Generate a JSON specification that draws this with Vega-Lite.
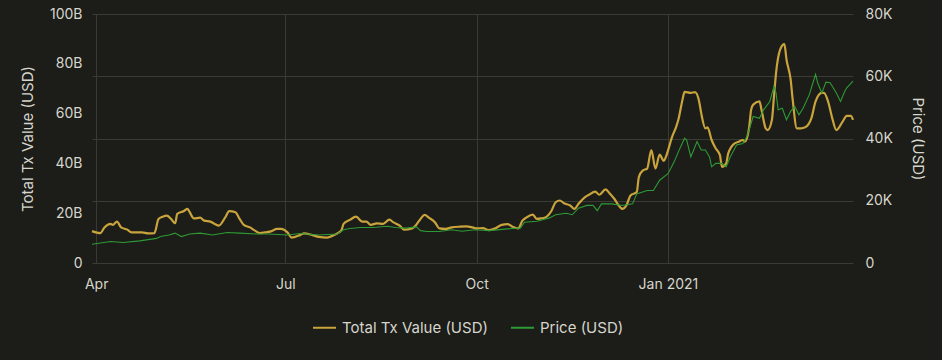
{
  "$schema": "https://vega.github.io/schema/vega-lite/v6.json",
  "width": 942,
  "height": 360,
  "autosize": {"type": "fit", "contains": "padding"},
  "padding": {"left": 20, "right": 17, "top": 7, "bottom": 69},
  "background": "#1c1c18",
  "config": {
    "view": {"stroke": null},
    "font": "Inter",
    "axis": {
      "labelColor": "#d6d6cc",
      "titleColor": "#d6d6cc",
      "labelFont": "Inter",
      "titleFont": "Inter",
      "labelFontSize": 14,
      "titleFontSize": 15,
      "titleFontWeight": "normal",
      "domain": false,
      "ticks": false,
      "gridColor": "#3b3b36",
      "gridWidth": 1
    },
    "legend": {
      "labelColor": "#d6d6cc",
      "labelFont": "Inter",
      "labelFontSize": 15
    }
  },
  "datasets": {
    "tx": [
      {"date": "2020-03-30", "tx": 12.8e9},
      {"date": "2020-04-03", "tx": 12.0e9},
      {"date": "2020-04-05", "tx": 14.3e9},
      {"date": "2020-04-08", "tx": 15.7e9},
      {"date": "2020-04-09", "tx": 15.3e9},
      {"date": "2020-04-11", "tx": 16.6e9},
      {"date": "2020-04-13", "tx": 14.3e9},
      {"date": "2020-04-16", "tx": 13.4e9},
      {"date": "2020-04-18", "tx": 12.3e9},
      {"date": "2020-04-21", "tx": 12.3e9},
      {"date": "2020-04-23", "tx": 12.3e9},
      {"date": "2020-04-26", "tx": 11.9e9},
      {"date": "2020-04-29", "tx": 12.0e9},
      {"date": "2020-05-01", "tx": 17.7e9},
      {"date": "2020-05-03", "tx": 18.6e9},
      {"date": "2020-05-05", "tx": 19.0e9},
      {"date": "2020-05-07", "tx": 17.7e9},
      {"date": "2020-05-09", "tx": 16.0e9},
      {"date": "2020-05-10", "tx": 19.7e9},
      {"date": "2020-05-13", "tx": 20.8e9},
      {"date": "2020-05-15", "tx": 21.7e9},
      {"date": "2020-05-16", "tx": 20.4e9},
      {"date": "2020-05-18", "tx": 17.9e9},
      {"date": "2020-05-21", "tx": 18.2e9},
      {"date": "2020-05-23", "tx": 17.0e9},
      {"date": "2020-05-26", "tx": 16.6e9},
      {"date": "2020-05-28", "tx": 15.7e9},
      {"date": "2020-05-30", "tx": 15.0e9},
      {"date": "2020-06-02", "tx": 18.2e9},
      {"date": "2020-06-04", "tx": 20.8e9},
      {"date": "2020-06-07", "tx": 20.4e9},
      {"date": "2020-06-09", "tx": 17.7e9},
      {"date": "2020-06-11", "tx": 15.3e9},
      {"date": "2020-06-14", "tx": 14.3e9},
      {"date": "2020-06-16", "tx": 13.2e9},
      {"date": "2020-06-19", "tx": 12.0e9},
      {"date": "2020-06-21", "tx": 12.3e9},
      {"date": "2020-06-24", "tx": 12.7e9},
      {"date": "2020-06-27", "tx": 13.7e9},
      {"date": "2020-06-29", "tx": 13.7e9},
      {"date": "2020-07-02", "tx": 12.3e9},
      {"date": "2020-07-04", "tx": 10.2e9},
      {"date": "2020-07-08", "tx": 11.2e9},
      {"date": "2020-07-10", "tx": 11.9e9},
      {"date": "2020-07-14", "tx": 11.2e9},
      {"date": "2020-07-17", "tx": 10.5e9},
      {"date": "2020-07-21", "tx": 10.2e9},
      {"date": "2020-07-23", "tx": 10.7e9},
      {"date": "2020-07-26", "tx": 11.9e9},
      {"date": "2020-07-28", "tx": 13.2e9},
      {"date": "2020-07-29", "tx": 15.7e9},
      {"date": "2020-08-01", "tx": 17.3e9},
      {"date": "2020-08-04", "tx": 18.6e9},
      {"date": "2020-08-07", "tx": 16.6e9},
      {"date": "2020-08-09", "tx": 16.6e9},
      {"date": "2020-08-11", "tx": 15.3e9},
      {"date": "2020-08-14", "tx": 15.9e9},
      {"date": "2020-08-17", "tx": 15.7e9},
      {"date": "2020-08-20", "tx": 17.4e9},
      {"date": "2020-08-22", "tx": 16.3e9},
      {"date": "2020-08-25", "tx": 15.0e9},
      {"date": "2020-08-27", "tx": 13.4e9},
      {"date": "2020-08-31", "tx": 13.9e9},
      {"date": "2020-09-02", "tx": 15.4e9},
      {"date": "2020-09-04", "tx": 17.7e9},
      {"date": "2020-09-06", "tx": 19.3e9},
      {"date": "2020-09-08", "tx": 18.2e9},
      {"date": "2020-09-11", "tx": 16.3e9},
      {"date": "2020-09-13", "tx": 13.9e9},
      {"date": "2020-09-16", "tx": 13.7e9},
      {"date": "2020-09-19", "tx": 14.3e9},
      {"date": "2020-09-23", "tx": 14.6e9},
      {"date": "2020-09-26", "tx": 14.7e9},
      {"date": "2020-09-29", "tx": 14.3e9},
      {"date": "2020-10-01", "tx": 13.9e9},
      {"date": "2020-10-04", "tx": 14.0e9},
      {"date": "2020-10-07", "tx": 13.2e9},
      {"date": "2020-10-10", "tx": 13.9e9},
      {"date": "2020-10-13", "tx": 15.3e9},
      {"date": "2020-10-16", "tx": 15.6e9},
      {"date": "2020-10-18", "tx": 14.7e9},
      {"date": "2020-10-21", "tx": 13.9e9},
      {"date": "2020-10-23", "tx": 17.0e9},
      {"date": "2020-10-25", "tx": 18.3e9},
      {"date": "2020-10-28", "tx": 19.4e9},
      {"date": "2020-10-30", "tx": 17.7e9},
      {"date": "2020-11-01", "tx": 17.9e9},
      {"date": "2020-11-03", "tx": 18.3e9},
      {"date": "2020-11-06", "tx": 21.0e9},
      {"date": "2020-11-08", "tx": 24.4e9},
      {"date": "2020-11-10", "tx": 25.1e9},
      {"date": "2020-11-12", "tx": 24.0e9},
      {"date": "2020-11-15", "tx": 23.1e9},
      {"date": "2020-11-17", "tx": 21.7e9},
      {"date": "2020-11-19", "tx": 23.8e9},
      {"date": "2020-11-22", "tx": 26.4e9},
      {"date": "2020-11-24", "tx": 27.4e9},
      {"date": "2020-11-27", "tx": 28.7e9},
      {"date": "2020-11-29", "tx": 27.4e9},
      {"date": "2020-12-02", "tx": 29.6e9},
      {"date": "2020-12-04", "tx": 27.9e9},
      {"date": "2020-12-06", "tx": 26.0e9},
      {"date": "2020-12-09", "tx": 22.4e9},
      {"date": "2020-12-10", "tx": 21.7e9},
      {"date": "2020-12-12", "tx": 23.1e9},
      {"date": "2020-12-14", "tx": 27.1e9},
      {"date": "2020-12-17", "tx": 28.5e9},
      {"date": "2020-12-18", "tx": 34.5e9},
      {"date": "2020-12-20", "tx": 37.2e9},
      {"date": "2020-12-22", "tx": 37.9e9},
      {"date": "2020-12-24", "tx": 45.3e9},
      {"date": "2020-12-26", "tx": 37.9e9},
      {"date": "2020-12-28", "tx": 43.5e9},
      {"date": "2020-12-30", "tx": 41.0e9},
      {"date": "2020-12-31", "tx": 42.6e9},
      {"date": "2021-01-03", "tx": 50.7e9},
      {"date": "2021-01-05", "tx": 54.8e9},
      {"date": "2021-01-06", "tx": 57.5e9},
      {"date": "2021-01-08", "tx": 65.6e9},
      {"date": "2021-01-09", "tx": 68.7e9},
      {"date": "2021-01-12", "tx": 68.3e9},
      {"date": "2021-01-14", "tx": 68.6e9},
      {"date": "2021-01-16", "tx": 64.9e9},
      {"date": "2021-01-17", "tx": 60.2e9},
      {"date": "2021-01-19", "tx": 54.1e9},
      {"date": "2021-01-20", "tx": 54.5e9},
      {"date": "2021-01-22", "tx": 49.4e9},
      {"date": "2021-01-24", "tx": 46.0e9},
      {"date": "2021-01-26", "tx": 43.3e9},
      {"date": "2021-01-27", "tx": 38.6e9},
      {"date": "2021-01-29", "tx": 40.0e9},
      {"date": "2021-01-30", "tx": 44.0e9},
      {"date": "2021-02-02", "tx": 48.0e9},
      {"date": "2021-02-04", "tx": 48.7e9},
      {"date": "2021-02-06", "tx": 49.4e9},
      {"date": "2021-02-07", "tx": 48.7e9},
      {"date": "2021-02-09", "tx": 54.1e9},
      {"date": "2021-02-10", "tx": 61.5e9},
      {"date": "2021-02-11", "tx": 63.6e9},
      {"date": "2021-02-14", "tx": 64.9e9},
      {"date": "2021-02-15", "tx": 61.5e9},
      {"date": "2021-02-17", "tx": 54.1e9},
      {"date": "2021-02-18", "tx": 53.4e9},
      {"date": "2021-02-20", "tx": 57.5e9},
      {"date": "2021-02-21", "tx": 66.9e9},
      {"date": "2021-02-22", "tx": 76.4e9},
      {"date": "2021-02-24", "tx": 85.8e9},
      {"date": "2021-02-26", "tx": 87.9e9},
      {"date": "2021-02-27", "tx": 81.8e9},
      {"date": "2021-03-01", "tx": 73.7e9},
      {"date": "2021-03-02", "tx": 65.6e9},
      {"date": "2021-03-04", "tx": 54.1e9},
      {"date": "2021-03-06", "tx": 54.1e9},
      {"date": "2021-03-08", "tx": 54.5e9},
      {"date": "2021-03-11", "tx": 58.2e9},
      {"date": "2021-03-13", "tx": 64.9e9},
      {"date": "2021-03-16", "tx": 68.3e9},
      {"date": "2021-03-17", "tx": 68.3e9},
      {"date": "2021-03-19", "tx": 64.9e9},
      {"date": "2021-03-21", "tx": 58.2e9},
      {"date": "2021-03-23", "tx": 53.4e9},
      {"date": "2021-03-26", "tx": 56.8e9},
      {"date": "2021-03-28", "tx": 59.1e9},
      {"date": "2021-03-30", "tx": 59.1e9},
      {"date": "2021-03-31", "tx": 57.5e9}
    ],
    "price": [
      {"date": "2020-03-30", "price": 6000},
      {"date": "2020-04-08", "price": 6900},
      {"date": "2020-04-14", "price": 6600},
      {"date": "2020-04-22", "price": 7100},
      {"date": "2020-04-30", "price": 7900},
      {"date": "2020-05-02", "price": 8500},
      {"date": "2020-05-06", "price": 9000},
      {"date": "2020-05-09", "price": 9600},
      {"date": "2020-05-12", "price": 8500},
      {"date": "2020-05-16", "price": 9300},
      {"date": "2020-05-21", "price": 9600},
      {"date": "2020-05-27", "price": 9000},
      {"date": "2020-06-03", "price": 9800},
      {"date": "2020-06-09", "price": 9600},
      {"date": "2020-06-17", "price": 9300},
      {"date": "2020-06-23", "price": 9300},
      {"date": "2020-07-02", "price": 9000},
      {"date": "2020-07-08", "price": 9500},
      {"date": "2020-07-17", "price": 9000},
      {"date": "2020-07-26", "price": 9300},
      {"date": "2020-07-29", "price": 10700},
      {"date": "2020-08-01", "price": 11100},
      {"date": "2020-08-06", "price": 11400},
      {"date": "2020-08-12", "price": 11400},
      {"date": "2020-08-19", "price": 11800},
      {"date": "2020-08-23", "price": 11400},
      {"date": "2020-08-28", "price": 11200},
      {"date": "2020-09-02", "price": 11600},
      {"date": "2020-09-04", "price": 10400},
      {"date": "2020-09-07", "price": 10100},
      {"date": "2020-09-13", "price": 10100},
      {"date": "2020-09-19", "price": 10700},
      {"date": "2020-09-24", "price": 10200},
      {"date": "2020-09-29", "price": 10600},
      {"date": "2020-10-02", "price": 10600},
      {"date": "2020-10-07", "price": 10400},
      {"date": "2020-10-18", "price": 11100},
      {"date": "2020-10-22", "price": 11200},
      {"date": "2020-10-24", "price": 13100},
      {"date": "2020-10-30", "price": 13400},
      {"date": "2020-11-05", "price": 14500},
      {"date": "2020-11-08", "price": 15500},
      {"date": "2020-11-13", "price": 16000},
      {"date": "2020-11-16", "price": 15500},
      {"date": "2020-11-19", "price": 17600},
      {"date": "2020-11-23", "price": 18500},
      {"date": "2020-11-26", "price": 18500},
      {"date": "2020-11-28", "price": 16800},
      {"date": "2020-11-30", "price": 19000},
      {"date": "2020-12-05", "price": 19000},
      {"date": "2020-12-10", "price": 18500},
      {"date": "2020-12-15", "price": 19000},
      {"date": "2020-12-17", "price": 22200},
      {"date": "2020-12-22", "price": 23300},
      {"date": "2020-12-25", "price": 23300},
      {"date": "2020-12-28", "price": 26600},
      {"date": "2021-01-01", "price": 28700},
      {"date": "2021-01-04", "price": 32500},
      {"date": "2021-01-06", "price": 35700},
      {"date": "2021-01-09", "price": 40100},
      {"date": "2021-01-10", "price": 39500},
      {"date": "2021-01-12", "price": 34100},
      {"date": "2021-01-15", "price": 39000},
      {"date": "2021-01-17", "price": 36300},
      {"date": "2021-01-19", "price": 36300},
      {"date": "2021-01-21", "price": 34100},
      {"date": "2021-01-22", "price": 30900},
      {"date": "2021-01-24", "price": 32000},
      {"date": "2021-01-27", "price": 32000},
      {"date": "2021-01-29", "price": 30900},
      {"date": "2021-01-31", "price": 34100},
      {"date": "2021-02-03", "price": 37900},
      {"date": "2021-02-06", "price": 38400},
      {"date": "2021-02-08", "price": 40600},
      {"date": "2021-02-10", "price": 44900},
      {"date": "2021-02-11", "price": 47100},
      {"date": "2021-02-14", "price": 46500},
      {"date": "2021-02-16", "price": 49200},
      {"date": "2021-02-19", "price": 51900},
      {"date": "2021-02-21", "price": 56800},
      {"date": "2021-02-22", "price": 54600},
      {"date": "2021-02-23", "price": 49200},
      {"date": "2021-02-25", "price": 49700},
      {"date": "2021-02-27", "price": 46000},
      {"date": "2021-03-01", "price": 48700},
      {"date": "2021-03-03", "price": 50300},
      {"date": "2021-03-05", "price": 47600},
      {"date": "2021-03-07", "price": 49700},
      {"date": "2021-03-10", "price": 54100},
      {"date": "2021-03-11", "price": 56300},
      {"date": "2021-03-13", "price": 60600},
      {"date": "2021-03-14", "price": 57900},
      {"date": "2021-03-16", "price": 54600},
      {"date": "2021-03-18", "price": 58100},
      {"date": "2021-03-20", "price": 57900},
      {"date": "2021-03-23", "price": 54600},
      {"date": "2021-03-25", "price": 51900},
      {"date": "2021-03-27", "price": 55100},
      {"date": "2021-03-28", "price": 56300},
      {"date": "2021-03-31", "price": 58400}
    ]
  },
  "layer": [
    {
      "data": {"name": "tx"},
      "mark": {"type": "line", "strokeWidth": 2.2, "interpolate": "monotone"},
      "encoding": {
        "x": {
          "field": "date",
          "type": "temporal",
          "scale": {
            "type": "utc",
            "domain": [
              {"year": 2020, "month": "mar", "date": 30, "utc": true},
              {"year": 2021, "month": "mar", "date": 31, "utc": true}
            ]
          },
          "axis": {
            "title": null,
            "grid": true,
            "tickCount": {"interval": "month", "step": 3},
            "labelPadding": 14,
            "labelExpr": "utcmonth(datum.value) === 0 ? utcFormat(datum.value, '%b %Y') : utcFormat(datum.value, '%b')"
          }
        },
        "y": {
          "field": "tx",
          "type": "quantitative",
          "scale": {"domain": [0, 100e9]},
          "axis": {
            "orient": "left",
            "title": "Total Tx Value (USD)",
            "grid": false,
            "values": [0, 20e9, 40e9, 60e9, 80e9, 100e9],
            "labelPadding": 10,
            "titlePadding": 14,
            "labelExpr": "datum.value === 0 ? '0' : format(datum.value / 1e9, 'd') + 'B'"
          }
        },
        "color": {
          "datum": "Total Tx Value (USD)",
          "type": "nominal",
          "scale": {
            "domain": ["Total Tx Value (USD)", "Price (USD)"],
            "range": ["#c9a43c", "#2e9a35"]
          },
          "legend": {
            "orient": "none",
            "direction": "horizontal",
            "legendX": 220,
            "legendY": 301,
            "title": null,
            "symbolType": "stroke",
            "symbolSize": 529,
            "symbolStrokeWidth": 2,
            "labelOffset": 5,
            "columnPadding": 19
          }
        }
      }
    },
    {
      "data": {"name": "price"},
      "mark": {"type": "line", "strokeWidth": 1.1},
      "encoding": {
        "x": {"field": "date", "type": "temporal"},
        "y": {
          "field": "price",
          "type": "quantitative",
          "scale": {"domain": [0, 80000]},
          "axis": {
            "orient": "right",
            "title": "Price (USD)",
            "titleAngle": 90,
            "grid": true,
            "values": [0, 20000, 40000, 60000, 80000],
            "labelPadding": 12,
            "titlePadding": 17,
            "labelExpr": "datum.value === 0 ? '0' : format(datum.value / 1000, 'd') + 'K'"
          }
        },
        "color": {"datum": "Price (USD)", "type": "nominal"}
      }
    }
  ],
  "resolve": {"scale": {"y": "independent"}}
}
